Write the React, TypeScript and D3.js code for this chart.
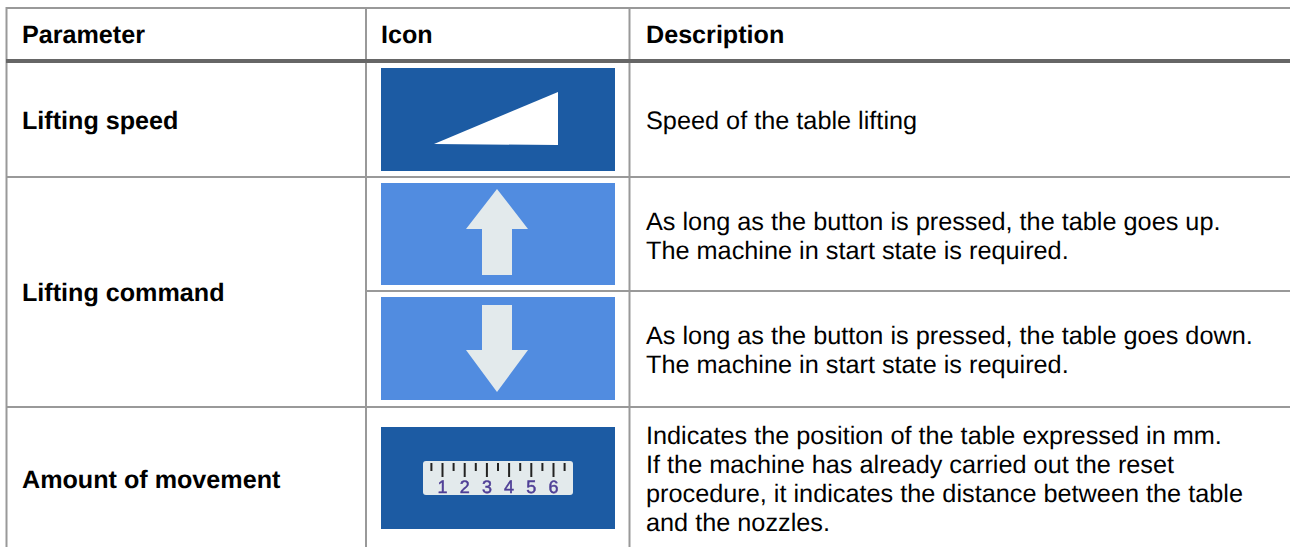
import React from 'react';
import * as d3 from 'd3';

const headers = ['Parameter', 'Icon', 'Description'];
const parameters = ['Lifting speed', 'Lifting command', 'Amount of movement'];
const descriptions = [
  ['Speed of the table lifting'],
  ['As long as the button is pressed, the table goes up.', 'The machine in start state is required.'],
  ['As long as the button is pressed, the table goes down.', 'The machine in start state is required.'],
  [
    'Indicates the position of the table expressed in mm.',
    'If the machine has already carried out the reset',
    'procedure, it indicates the distance between the table',
    'and the nozzles.',
  ],
];
const rulerMajor = [1, 2, 3, 4, 5, 6];
const rulerMinor = [0.5, 1.5, 2.5, 3.5, 4.5, 5.5, 6.5];

const FONT = '"Liberation Sans", Arial, sans-serif';
const GRID = '#999999';
const DARK_BLUE = '#1c5ba3';
const LIGHT_BLUE = '#518ce0';
const ICON_WHITE = '#e3eaec';

// cell layout of the screenshot
const colX = [22, 381, 646];
const iconX = 381;
const iconW = 234;
const iconBoxes = [
  { y: 68, h: 103, fill: DARK_BLUE },
  { y: 183, h: 102, fill: LIGHT_BLUE },
  { y: 297, h: 103, fill: LIGHT_BLUE },
  { y: 427, h: 102, fill: DARK_BLUE },
];
const BOLD_SIZE = 25.15;
const BODY_SIZE = 25.27;
const paramBaselines = [129, 301, 488];
const descBaselines = [129, 229.5, 344, 444];
const LINE_H = 29;

const line = d3.line<[number, number]>();
const wedge: [number, number][] = [[434, 144], [558, 92], [558, 145]];
const upArrow: [number, number][] = [
  [497, 189], [528, 229], [512, 229], [512, 275], [482, 275], [482, 229], [466, 229],
];
const downArrow: [number, number][] = [
  [482, 305], [512, 305], [512, 350], [528, 350], [497, 392], [466, 350], [482, 350],
];

const rulerScale = d3.scaleLinear().domain([1, 6]).range([442.5, 553.5]);

export default function App() {
  return (
    <svg
      width={1290}
      height={547}
      style={{ position: 'absolute', left: 0, top: 0, background: '#fff' }}
      fontFamily={FONT}
      textRendering="geometricPrecision"
    >
      <defs>
        {/* the icons are upscaled bitmaps in the source, slightly soft */}
        <filter id="soft" x="-5%" y="-5%" width="110%" height="110%">
          <feGaussianBlur stdDeviation="0.6" />
        </filter>
      </defs>

      {/* grid */}
      <g stroke={GRID} fill="none">
        <line x1={6} x2={1290} y1={8} y2={8} strokeWidth={2} />
        <line x1={6.5} x2={6.5} y1={7} y2={547} strokeWidth={2} />
        <line x1={366} x2={366} y1={7} y2={547} strokeWidth={2} />
        <line x1={629.5} x2={629.5} y1={7} y2={547} strokeWidth={2} />
        <line x1={6} x2={1290} y1={177} y2={177} strokeWidth={2} />
        <line x1={366} x2={1290} y1={291} y2={291} strokeWidth={2} />
        <line x1={6} x2={1290} y1={407} y2={407} strokeWidth={2} />
      </g>
      <line x1={6} x2={1290} y1={61} y2={61} stroke="#666666" strokeWidth={4} />

      {/* header */}
      {headers.map((h, i) => (
        <text key={h} x={colX[i]} y={42.5} fontSize={BOLD_SIZE} fontWeight="bold" fill="#000">
          {h}
        </text>
      ))}

      {/* parameter names */}
      {parameters.map((p, i) => (
        <text key={p} x={colX[0]} y={paramBaselines[i]} fontSize={BOLD_SIZE} fontWeight="bold" fill="#000">
          {p}
        </text>
      ))}

      {/* icons */}
      {iconBoxes.map((b, i) => (
        <rect key={i} x={iconX} y={b.y} width={iconW} height={b.h} fill={b.fill} />
      ))}
      <g filter="url(#soft)">
        <path d={line(wedge) + 'Z'} fill="#ffffff" />
        <path d={line(upArrow) + 'Z'} fill={ICON_WHITE} />
        <path d={line(downArrow) + 'Z'} fill={ICON_WHITE} />

        {/* ruler icon */}
        <rect x={423} y={461} width={150} height={34} rx={3} fill={ICON_WHITE} />
        {rulerMajor.map((t) => (
          <line key={t} x1={rulerScale(t)} x2={rulerScale(t)} y1={463} y2={477} stroke="#222" strokeWidth={2} />
        ))}
        {rulerMinor.map((t) => (
          <line key={t} x1={rulerScale(t)} x2={rulerScale(t)} y1={463} y2={471} stroke="#222" strokeWidth={2} />
        ))}
        {rulerMajor.map((t) => (
          <text key={t} x={rulerScale(t)} y={493} fontSize={18} textAnchor="middle" fill="#4f3f96" stroke="#4f3f96" strokeWidth={0.5}>
            {t}
          </text>
        ))}
      </g>

      {/* descriptions */}
      {descriptions.map((lines, i) =>
        lines.map((l, j) => (
          <text key={l + i} x={colX[2]} y={descBaselines[i] + j * LINE_H} fontSize={BODY_SIZE} fill="#000">
            {l}
          </text>
        )),
      )}
    </svg>
  );
}
